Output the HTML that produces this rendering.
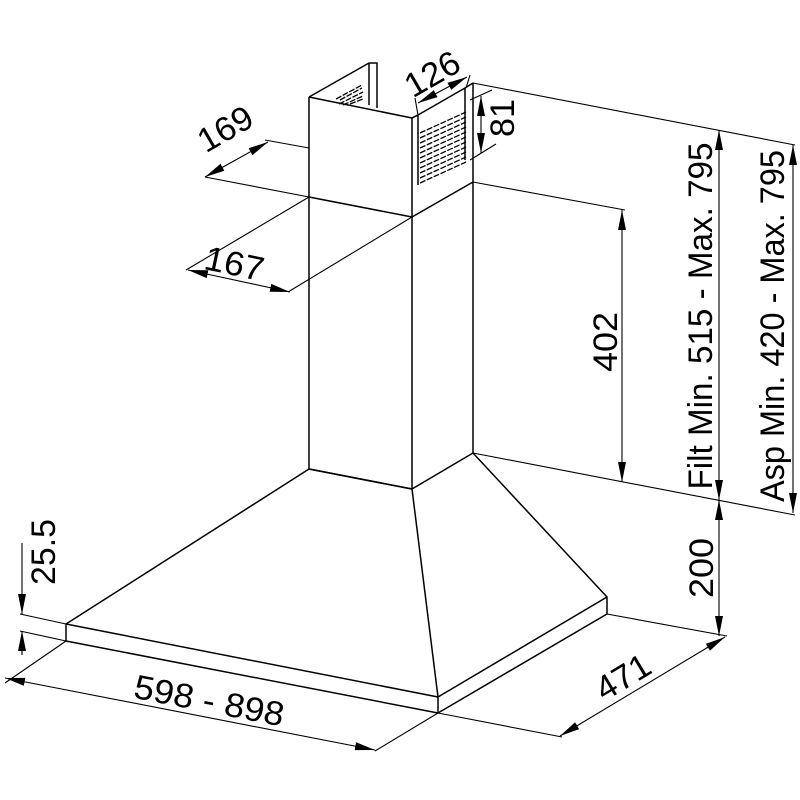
<!DOCTYPE html>
<html><head><meta charset="utf-8"><style>html,body{margin:0;padding:0;background:#fff}svg{display:block}</style></head>
<body>
<svg width="800" height="800" viewBox="0 0 800 800" xmlns="http://www.w3.org/2000/svg">
<defs>
<marker id="b" viewBox="0 0 20 10" refX="20" refY="5" markerWidth="20" markerHeight="10" markerUnits="userSpaceOnUse" orient="auto-start-reverse"><path d="M0,1 L20,5 L0,9 z" fill="#000"/></marker>
</defs>
<g fill="none" stroke="#000" stroke-width="1.5" stroke-linejoin="round">
<path d="M309,469 L66,624 L66,641 L438,713 L607,614 L607,597 L473,453 L412,489 Z" fill="#fff"/>
<path d="M66,624 L438,697 L607,597 M438,697 L438,713 M412,489 L438,697 M309,469 L412,489"/>
<path d="M309,97 L309,469 M412,118 L412,489 M473,83 L473,453 M309,197 L412,217 L473,182"/>
<path d="M309,97 L412,118 L418,115 M309,97 L369,63 L377,63 L377,108"/>
<path d="M369,63 L369,105 M418,115 L465,88 L465,160 M465,88 L473,83 M418,115 L418,185 M412,118 L418,115"/>
</g>
<g stroke="#000" stroke-width="1.3" stroke-dasharray="6 1.5">
<path d="M420,133 L466,112 M420,138 L466,117 M420,143 L466,122 M420,148 L466,127 M420,153 L466,132 M420,158 L466,137 M420,163 L466,142 M420,168 L466,147 M420,173 L466,152 M420,178 L466,157 M420,183 L466,162"/>
<path d="M340,100 L362,88 M339,104 L363,92 M343,105 L363,96 M350,104 L363,99 M336,99 L362,85"/>
</g>
<g fill="none" stroke="#000" stroke-width="1.1">
<path d="M473,83 L795,145 M473,182 L625,210 M473,453 L795,515"/>
<path d="M607,614 L727,636 M438,713 L562,737 M66,624 L20,614 M66,641 L20,631 M66,641 L5,683 M438,713 L375,751"/>
<path d="M309,148 L265,140 M412,217 L288,292 M309,197 L186,270 M309,197 L205,177"/>
<path d="M418,115 L415,98 M466,88 L470,75 M470,100 L492,90 M470,160 L496,144"/>
<path d="M719,500 L719,512"/>
<path d="M22,543 L22,590 M22,655 L22,637"/>
</g>
<g stroke="#000" stroke-width="1.1" fill="none">
<line x1="719" y1="500" x2="719" y2="130" marker-end="url(#b)" marker-start="url(#b)"/>
<line x1="793" y1="145" x2="793" y2="513" marker-end="url(#b)" marker-start="url(#b)"/>
<line x1="622" y1="210" x2="622" y2="482" marker-end="url(#b)" marker-start="url(#b)"/>
<line x1="719" y1="500" x2="719" y2="636" marker-end="url(#b)" marker-start="url(#b)"/>
<line x1="481" y1="96" x2="481" y2="153" marker-end="url(#b)" marker-start="url(#b)"/>
<line x1="22" y1="590" x2="22" y2="614" marker-end="url(#b)"/>
<line x1="22" y1="655" x2="22" y2="631" marker-end="url(#b)"/>
<line x1="5" y1="678" x2="375" y2="750" marker-end="url(#b)" marker-start="url(#b)"/>
<line x1="560" y1="736" x2="725" y2="637" marker-end="url(#b)" marker-start="url(#b)"/>
<line x1="205" y1="177" x2="268" y2="142" marker-end="url(#b)" marker-start="url(#b)"/>
<line x1="188" y1="270" x2="290" y2="292" marker-end="url(#b)" marker-start="url(#b)"/>
<line x1="418" y1="103" x2="467" y2="77" marker-end="url(#b)" marker-start="url(#b)"/>
</g>
<g font-family="Liberation Sans, Arial, sans-serif" font-size="34" fill="#000">
<text transform="translate(712,316) rotate(-90)" text-anchor="middle" textLength="347" lengthAdjust="spacingAndGlyphs">Filt Min. 515 - Max. 795</text>
<text transform="translate(784,326) rotate(-90)" text-anchor="middle" textLength="352" lengthAdjust="spacingAndGlyphs">Asp Min. 420 - Max. 795</text>
<text transform="translate(617,342) rotate(-90)" text-anchor="middle" textLength="60" lengthAdjust="spacingAndGlyphs">402</text>
<text transform="translate(713,568) rotate(-90)" text-anchor="middle" textLength="60" lengthAdjust="spacingAndGlyphs">200</text>
<text transform="translate(514,118) rotate(-90)" text-anchor="middle" textLength="38" lengthAdjust="spacingAndGlyphs">81</text>
<text transform="translate(55,552) rotate(-90)" text-anchor="middle" textLength="66" lengthAdjust="spacingAndGlyphs">25.5</text>
<text transform="translate(207,712) rotate(11)" text-anchor="middle" textLength="152" lengthAdjust="spacingAndGlyphs">598 - 898</text>
<text transform="translate(629,687) rotate(-31)" text-anchor="middle" textLength="58" lengthAdjust="spacingAndGlyphs">471</text>
<text transform="translate(231,139) rotate(-30)" text-anchor="middle" textLength="58" lengthAdjust="spacingAndGlyphs">169</text>
<text transform="translate(232,275) rotate(12)" text-anchor="middle" textLength="60" lengthAdjust="spacingAndGlyphs">167</text>
<text transform="translate(438,84) rotate(-30)" text-anchor="middle" textLength="58" lengthAdjust="spacingAndGlyphs">126</text>
</g>
</svg>
</body></html>
